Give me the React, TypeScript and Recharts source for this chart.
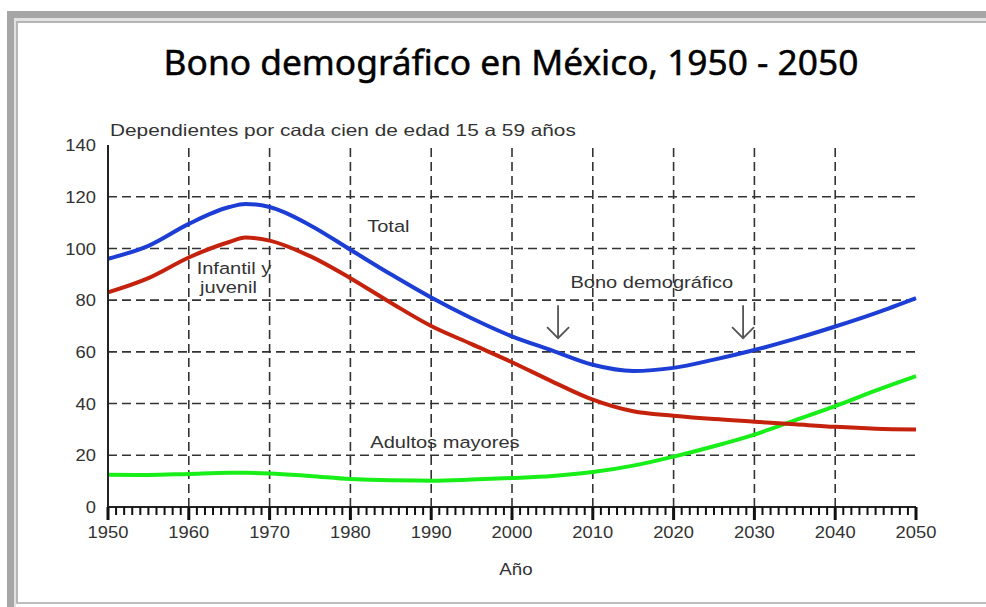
import React from 'react';
import { LineChart, Line, XAxis, YAxis, ReferenceLine, ReferenceDot } from 'recharts';

// valores (dependientes por cada cien de 15 a 59 años)
const years = [1950, 1955, 1960, 1965, 1967, 1970, 1975, 1980, 1985, 1990, 1995, 2000, 2005, 2010, 2015, 2020, 2025, 2030, 2035, 2040, 2045, 2050];
const total = [96, 101, 109.5, 116, 117.2, 116, 109, 99.5, 90, 81, 73, 66, 60.5, 55, 52.6, 53.8, 57, 60.7, 65, 69.8, 75, 80.8];
const infantil = [83, 88.5, 96.5, 102.5, 104.2, 103, 97, 88.5, 79, 70, 63, 56, 48.5, 41.5, 37, 35.3, 34, 33, 32, 31, 30.3, 30];
const adultos = [12.5, 12.4, 12.8, 13.2, 13.2, 13, 12, 10.8, 10.3, 10.2, 10.6, 11.2, 12, 13.5, 16, 19.5, 23.5, 28, 33.5, 39, 45, 50.6];

const decadeTicks = [1950, 1960, 1970, 1980, 1990, 2000, 2010, 2020, 2030, 2040, 2050];
const gridYears = [1960, 1970, 1980, 1990, 2000, 2010, 2020, 2030, 2040];
const yTicks = [0, 20, 40, 60, 80, 100, 120, 140];
const gridValues = [20, 40, 60, 80, 100, 120];
const yearTicks = Array.from({ length: 101 }, (_, i) => 1950 + i);

const chartData = years.map((year, i) => ({
  year,
  total: total[i],
  infantil: infantil[i],
  adultos: adultos[i],
}));

const labels = [
  { x: 1984.7, y: 108.5, text: 'Total' },
  { x: 1965.6, y: 92.5, text: 'Infantil y' },
  { x: 1964.9, y: 85.2, text: 'juvenil' },
  { x: 2017.3, y: 86.8, text: 'Bono demográfico' },
  { x: 1991.7, y: 25.2, text: 'Adultos mayores' },
];
const arrows = [
  { x: 2005.7, y: 65.3 },
  { x: 2028.6, y: 65.3 },
];

const FONT = '"Liberation Sans", Arial, sans-serif';

const XTick = (props: any) => {
  const { x, y, payload } = props;
  if (!decadeTicks.includes(payload.value)) return <g />;
  return (
    <text x={x} y={Number(y) + 31} textAnchor="middle" fontSize={17} fill="#333" fontFamily={FONT}
      style={{ transform: 'scaleX(1.08)', transformBox: 'fill-box', transformOrigin: 'center' }}>
      {payload.value}
    </text>
  );
};

const YTick = (props: any) => {
  const { x, y, payload } = props;
  return (
    <text x={x} y={y} dy="0.36em" textAnchor="end" fontSize={17} fill="#333" fontFamily={FONT}
      style={{ transform: 'scaleX(1.08)', transformBox: 'fill-box', transformOrigin: 'right' }}>
      {payload.value}
    </text>
  );
};

export default function App() {
  return (
    <div style={{ position: 'absolute', left: 0, top: 0, width: 986, height: 607, background: '#fff', overflow: 'hidden' }}>
      {/* marco de la diapositiva */}
      <div style={{ position: 'absolute', left: 7, top: 11, width: 979, height: 7, background: '#a6a6a6' }} />
      <div style={{ position: 'absolute', left: 7, top: 11, width: 7, height: 596, background: '#a6a6a6' }} />
      <div style={{ position: 'absolute', left: 14, top: 18, width: 972, height: 3, background: '#e2e2e2' }} />
      <div style={{ position: 'absolute', left: 14, top: 18, width: 2, height: 589, background: '#e2e2e2' }} />
      <div style={{ position: 'absolute', left: 16, top: 21, width: 970, height: 1.5, background: '#b5b5b5' }} />
      <div style={{ position: 'absolute', left: 16, top: 21, width: 1.5, height: 582, background: '#b5b5b5' }} />
      <div style={{ position: 'absolute', left: 16, top: 601.5, width: 970, height: 2, background: '#bdbdbd' }} />

      <div style={{ position: 'absolute', left: 0, width: 1022, top: 38, textAlign: 'center', fontFamily: '"Noto Sans", sans-serif', fontSize: 35.3, color: '#000', lineHeight: '46px', WebkitTextStroke: '0.5px #000' }}>
        Bono demográfico en México, 1950 - 2050
      </div>
      <div style={{ position: 'absolute', left: 110, top: 120, fontFamily: FONT, fontSize: 16.5, color: '#333', lineHeight: '20px', transform: 'scaleX(1.26)', transformOrigin: 'left' }}>
        Dependientes por cada cien de edad 15 a 59 años
      </div>
      <div style={{ position: 'absolute', left: 476, width: 80, top: 559, textAlign: 'center', fontFamily: FONT, fontSize: 17, color: '#333', lineHeight: '22px', transform: 'scaleX(1.1)' }}>
        Año
      </div>

      <LineChart width={986} height={607} data={chartData} margin={{ top: 145, right: 70, bottom: 70, left: 48 }} style={{ position: 'absolute', left: 0, top: 0 }}>
        <XAxis dataKey="year" type="number" domain={[1950, 2050]} ticks={decadeTicks} interval={0}
          tickSize={0} tickMargin={0} tickLine={false} height={30}
          axisLine={{ stroke: '#222', strokeWidth: 2 }} tick={<XTick />} />
        <XAxis xAxisId="top" orientation="top" dataKey="year" type="number" domain={[1950, 2050]} height={0}
          tick={false} tickLine={false} axisLine={{ stroke: '#222', strokeWidth: 2 }} />
        <YAxis type="number" domain={[0, 140]} ticks={yTicks} interval={0} width={60}
          tickSize={0} tickMargin={12} tickLine={false}
          axisLine={{ stroke: '#222', strokeWidth: 2 }} tick={<YTick />} />
        <YAxis yAxisId="right" orientation="right" type="number" domain={[0, 140]} width={0}
          tick={false} tickLine={false} axisLine={{ stroke: '#222', strokeWidth: 2 }} />
        {gridYears.map((g) => (
          <ReferenceLine key={`gx-${g}`} x={g} stroke="#333" strokeWidth={1.6} strokeDasharray="9 5" />
        ))}
        {gridValues.map((g) => (
          <ReferenceLine key={`gy-${g}`} y={g} stroke="#333" strokeWidth={1.6} strokeDasharray="9 5" />
        ))}
        <Line dataKey="adultos" type="monotone" stroke="#18ee18" strokeWidth={4} dot={false} isAnimationActive={false} />
        <Line dataKey="infantil" type="monotone" stroke="#c4220c" strokeWidth={4} dot={false} isAnimationActive={false} />
        <Line dataKey="total" type="monotone" stroke="#1c3ed4" strokeWidth={4} dot={false} isAnimationActive={false} />
        {/* marcas del eje X: cada año, más largas en las décadas */}
        {yearTicks.map((t) => {
          const major = decadeTicks.includes(t);
          return (
            <ReferenceDot key={`t-${t}`} x={t} y={0} r={0} ifOverflow="visible"
              shape={(p: any) => (
                <rect x={p.cx - (major ? 1.5 : 1)} y={p.cy} width={major ? 3 : 2} height={major ? 13 : 8} fill="#111" />
              )} />
          );
        })}
        {labels.map((l) => (
          <ReferenceDot key={l.text} x={l.x} y={l.y} r={0}
            shape={(p: any) => (
              <text x={p.cx} y={p.cy} dy="0.35em" textAnchor="middle" fontSize={17} fill="#333" fontFamily={FONT}
                style={{ transform: 'scaleX(1.18)', transformBox: 'fill-box', transformOrigin: 'center' }}>
                {l.text}
              </text>
            )} />
        ))}
        {arrows.map((a) => (
          <ReferenceDot key={`a-${a.x}`} x={a.x} y={a.y} r={0}
            shape={(p: any) => (
              <path d={`M${p.cx},${p.cy - 33} L${p.cx},${p.cy} M${p.cx - 11},${p.cy - 11} L${p.cx},${p.cy} L${p.cx + 11},${p.cy - 11}`}
                fill="none" stroke="#555" strokeWidth={1.8} />
            )} />
        ))}
      </LineChart>
    </div>
  );
}
